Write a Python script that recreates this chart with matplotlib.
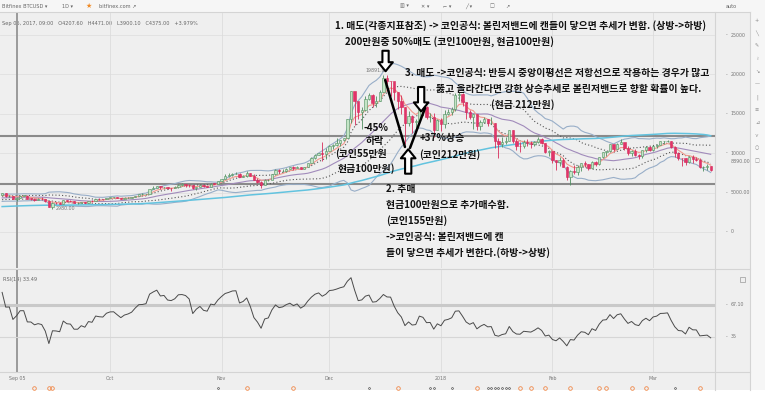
import matplotlib
matplotlib.use("Agg")
import matplotlib.pyplot as plt
from matplotlib.patches import Rectangle
import numpy as np
import pandas as pd

W, H = 768, 404
plt.rcParams['font.family'] = ['Noto Sans CJK KR', 'DejaVu Sans']

# daily BTCUSD (Bitfinex), Sep 01 2017 .. Mar 17 2018
closes = [4892, 4579, 4582, 4236, 4376, 4597, 4599, 4229, 4226, 4122, 4161, 4130, 3882, 3154, 3637,
          3625, 3582, 4065, 3924, 3905, 3631, 3631, 3776, 3703, 3942, 3910, 4202, 4174, 4163, 4338,
          4403, 4409, 4318, 4229, 4329, 4371, 4439, 4611, 4773, 4782, 4820, 5432, 5637, 5831, 5679,
          5725, 5605, 5590, 5708, 6011, 6031, 6008, 5930, 5526, 5750, 5904, 5780, 5753, 6153, 6130, 6468,
          6767, 7078, 7207, 7379, 7407, 7022, 7144, 7459, 7143, 6618, 6357, 5950, 6559, 6635, 7315,
          7871, 7708, 7790, 8036, 8200, 8071, 8253, 8038, 8254, 8790, 9330, 9818, 10058, 9888, 10233,
          10975, 11074, 11323, 11657, 11916, 14291, 17899, 16569, 15178, 15455, 16937, 17415, 16408, 16564, 17706,
          19497, 19140, 19114, 17776, 16624, 15802, 13831, 14699, 13926, 14026, 16099, 15838, 14606, 14656, 12952, 14156,
          13657, 14982, 15201, 15599, 17429, 17527, 16477, 15170, 14595, 14973, 13405, 13980, 14360, 13772, 13819,
          11490, 11188, 11474, 11607, 12899, 11600, 10931, 10868, 11359, 11259, 11171, 11440, 11787, 11296, 10106, 10221,
          9171, 8830, 9174, 8277, 6955, 7754, 7621, 8265, 8736, 8621, 8129, 8926, 8598, 9494,
          10166, 10233, 11112, 10551, 11225, 11403, 10690, 10005, 10301, 9813, 9664, 10366, 10725, 10397,
          10951, 11086, 11489, 11512, 11573, 10779, 9965, 9395, 9337, 8866, 9578, 9205, 9194, 8269, 8300, 8338, 7916]
highs = [4939, 4940, 4714, 4582, 4471, 4655, 4679, 4653, 4323, 4329, 4330, 4395, 4145, 3920, 3790,
         3809, 3760, 4120, 4120, 4045, 3937, 3768, 3813, 3791, 3975, 4008, 4210, 4255, 4217, 4362,
         4470, 4470, 4433, 4352, 4362, 4430, 4460, 4620, 4788, 4916, 4876, 5447, 5850, 5840, 5866,
         5770, 5739, 5630, 5774, 6070, 6195, 6076, 6070, 5935, 5760, 5978, 6000, 5880, 6260, 6195, 6470,
         6770, 7367, 7461, 7493, 7601, 7445, 7207, 7776, 7446, 7329, 6838, 6490, 6735, 6760, 7330,
         7964, 7989, 7937, 8102, 8267, 8374, 8337, 8300, 8305, 8800, 9526, 9835, 10057, 11400, 10700,
         11050, 11180, 11900, 11684, 11958, 14376, 17899, 17294, 16400, 15889, 17223, 17603, 17500, 17230, 17988,
         19870, 19891, 19178, 19021, 17790, 17440, 15920, 15350, 14833, 14400, 16370, 16510, 15964, 15130, 15060, 14400,
         14438, 15450, 15600, 15800, 17600, 17800, 17600, 16500, 15500, 14995, 14970, 14200, 14600, 14400, 14550,
         13800, 11900, 12000, 12100, 13000, 12900, 11800, 11400, 11700, 11800, 11560, 11600, 12000, 11870, 11300, 10400,
         10200, 9100, 9490, 9380, 8400, 7850, 8500, 8500, 8750, 9070, 8600, 8990, 8950, 9500,
         10200, 10300, 11120, 11100, 11250, 11800, 11300, 10900, 10400, 10500, 9900, 10400, 10900, 10880,
         11000, 11200, 11550, 11540, 11700, 11600, 10900, 10100, 9420, 9400, 9650, 9800, 9500, 9400, 8400, 8600, 8400]
lows = [4735, 4450, 4453, 4130, 3900, 4373, 4535, 4151, 4110, 3909, 4075, 4076, 3765, 3152, 2980,
        3565, 3551, 3566, 3869, 3860, 3625, 3508, 3620, 3665, 3706, 3869, 3906, 4117, 4017, 4146,
        4310, 4368, 4258, 4208, 4226, 4321, 4358, 4430, 4570, 4737, 4754, 4822, 5426, 5615, 5450,
        5568, 5518, 5215, 5585, 5632, 5895, 5730, 5681, 5480, 5376, 5730, 5729, 5722, 5680, 6054, 6104,
        6377, 6700, 6990, 7101, 7300, 7003, 6987, 7040, 7089, 6590, 6250, 5600, 5944, 6424, 6667,
        7195, 7498, 7559, 7637, 7962, 7827, 8070, 8030, 8015, 8286, 8800, 9319, 9767, 8964, 9300,
        10300, 10500, 10910, 10878, 11590, 11890, 13884, 13600, 14360, 13120, 15356, 16696, 15900, 15920, 16562,
        17725, 18800, 17200, 16780, 15600, 14915, 11160, 13400, 12610, 13100, 13952, 15356, 14290, 13960, 12100, 12900,
        12800, 13200, 14800, 14800, 15400, 16600, 16000, 14300, 14300, 13100, 12900, 12900, 13900, 13400, 13700,
        10700, 9400, 10800, 11200, 11500, 11300, 10400, 10100, 10600, 10900, 10600, 10900, 11300, 11200, 10000, 9700,
        8800, 7900, 8400, 8200, 6600, 6000, 7300, 7200, 7800, 8200, 7900, 8100, 8400, 8550,
        9400, 9700, 10100, 10300, 10500, 11200, 10400, 9800, 9600, 9700, 9300, 9400, 10100, 10300,
        10300, 10700, 11000, 11200, 11400, 10600, 9500, 9100, 8400, 8500, 8700, 8800, 9000, 8100, 7700, 7900, 7800]
# closes Jul 01 .. Aug 31 2017, only used to warm up the indicators
warmup = [2434, 2507, 2565, 2601, 2601, 2608, 2518, 2571, 2518, 2373, 2337, 2398, 2357, 2233, 1998,
          1929, 2228, 2318, 2273, 2817, 2667, 2810, 2730, 2754, 2576, 2529, 2671, 2809, 2726, 2757, 2875,
          2718, 2710, 2804, 2895, 3252, 3213, 3378, 3419, 3342, 3381, 3650, 3884, 4073, 4325, 4182, 4360,
          4276, 4160, 4193, 4087, 4001, 4100, 4151, 4334, 4371, 4352, 4382, 4382, 4579, 4565, 4703]

month_days = [30, 61, 91, 122, 153, 181]
month_labels = ['Oct', 'Nov', 'Dec', '2018', 'Feb', 'Mar']
cursor_day = 4
price_ticks = [0, 5000, 10000, 15000, 20000, 25000]
price_tick_labels = ['0', '5000.00', '10000', '15000', '20000', '25000']
last_price = 8890.00
level_lines = [12180, 6090]
rsi_levels = [67.10, 35]
events_orange = [9, 13, 14, 68, 81, 110, 132, 144, 147, 151, 158, 166, 168, 175, 179, 194]
events_black = [60, 102, 119, 120, 125, 135, 136, 137, 138, 139, 140, 141, 187]

# ---- indicators
s = pd.Series(warmup + closes, dtype=float)
k = len(warmup)
ma20 = s.rolling(20, min_periods=1).mean()
sd20 = s.rolling(20, min_periods=2).std(ddof=0).bfill()
ema5 = s.ewm(span=6, adjust=False).mean()
ma100 = s.rolling(100, min_periods=1).mean()
d = s.diff()
gain = d.clip(lower=0).ewm(alpha=1 / 14, adjust=False).mean()
loss = (-d.clip(upper=0)).ewm(alpha=1 / 14, adjust=False).mean()
rsi = 100 - 100 / (1 + gain / loss)
sl = slice(k, None)

n = len(closes)
days = np.arange(n)
c = np.array(closes, float)
o = np.array([warmup[-1]] + closes[:-1], float)
hi = np.array(highs, float)
lo = np.array(lows, float)

fig = plt.figure(figsize=(W / 100, H / 100), dpi=100)
fig.patch.set_facecolor('white')

def fr(x0, y0, x1, y1):
    return [x0 / W, 1 - y1 / H, (x1 - x0) / W, (y1 - y0) / H]

# background / chrome in pixel coordinates
bg = fig.add_axes([0, 0, 1, 1], zorder=0)
bg.set_xlim(0, W); bg.set_ylim(H, 0); bg.axis('off')
bg.add_patch(Rectangle((0, 0), 765, 390, color='#efefef', lw=0))
bg.add_patch(Rectangle((0, 0), 765, 12, color='#f6f6f6', lw=0))
bg.add_patch(Rectangle((750, 12), 15, 378, color='#f6f6f6', lw=0))
for y in [12, 269, 372]:
    bg.plot([0, 750], [y, y], color='#d4d4d4', lw=0.8)
bg.plot([715, 715], [12, 390], color='#d4d4d4', lw=0.8)
bg.plot([750, 750], [12, 390], color='#d4d4d4', lw=0.8)
ui = dict(fontsize=3.6, color='#666', va='center', family='DejaVu Sans')
bg.text(2, 6, 'Bitfinex BTCUSD ▾', **ui)
bg.text(62, 6, '1D ▾', **ui)
bg.text(86, 6, '★', fontsize=5, color='#f08a24', va='center', family='DejaVu Sans')
bg.text(99, 6, 'bitfinex.com ↗', **ui)
for x, g in zip([400, 421, 443, 465, 490, 505], ['▥ ▾', '✕ ▾', '⌐ ▾', '╱ ▾', '□', '↗']):
    bg.text(x, 6, g, **ui)
bg.text(726, 6, 'auto', **ui)
for i, g in enumerate(['+', '╲', '✎', '≀', '↘', '—', '|', '≡', '⊿', '⋎', '○', '□']):
    bg.text(757, 20 + i * 12.8, g, fontsize=3.6, color='#888', ha='center', va='center', family='DejaVu Sans')
bg.text(2, 23, 'Sep 05, 2017, 09:00   O4207.60   H4471.00   L3900.10   C4375.00   +3.979%', **ui)
bg.text(3, 279, 'RSI(14) 33.49', **ui)
bg.add_patch(Rectangle((740, 277), 5, 5, fill=False, ec='#999', lw=0.5))

# ---- price panel
ax = fig.add_axes(fr(0, 13, 715, 268), zorder=2)
ax.set_facecolor('none')
ax.set_xlim(-0.59, 198.2)
ax.set_ylim(-4569, 27792)
for sp in ax.spines.values():
    sp.set_visible(False)
ax.set_xticks([]); ax.set_yticks([])
for p in price_ticks:
    ax.axhline(p, color='#e0e0e0', lw=0.6, zorder=0)
for m in month_days:
    ax.axvline(m, color='#dcdcdc', lw=0.6, zorder=0)
ax.axvline(cursor_day, color='#9a9a9a', lw=1.4, zorder=1)
for lv in level_lines:
    ax.axhline(lv, color='#8a8a8a', lw=1.5, zorder=1)

x = days
ax.plot(x, (ma20 + 2 * sd20)[sl], color='#98aec8', lw=0.8, zorder=2)
ax.plot(x, (ma20 - 2 * sd20)[sl], color='#98aec8', lw=0.8, zorder=2)
ax.plot(x, (ma20 + sd20)[sl], color='#555555', lw=0.8, ls=(0, (1, 2)), zorder=2)
ax.plot(x, (ma20 - sd20)[sl], color='#555555', lw=0.8, ls=(0, (1, 2)), zorder=2)
ax.plot(x, ma20[sl], color='#a18bbb', lw=0.8, zorder=2)
ax.plot(x, ma100[sl], color='#62c3df', lw=1.1, zorder=2)
ax.plot(x, ema5[sl], color='#f29a8e', lw=0.8, zorder=2)

up = c >= o
ax.vlines(x[up], lo[up], hi[up], color='#4f8f5f', lw=0.6, zorder=3)
ax.vlines(x[~up], lo[~up], hi[~up], color='#d62c5a', lw=0.6, zorder=3)
body_lo = np.minimum(o, c)
body_h = np.maximum(np.abs(c - o), 40)
ax.bar(x[up], body_h[up], bottom=body_lo[up], width=0.64, color='#c4e5c6',
       edgecolor='#4f8f5f', lw=0.4, zorder=4)
ax.bar(x[~up], body_h[~up], bottom=body_lo[~up], width=0.64, color='#e2336a',
       edgecolor='#d62c5a', lw=0.4, zorder=4)

ih = int(np.argmax(hi)); il = int(np.argmin(lo))
lab = dict(fontsize=3.4, color='#777', family='DejaVu Sans', zorder=5)
ax.text(ih + 0.4, hi[ih] + 250, f'{hi[ih]:.2f}', ha='right', va='bottom', **lab)
ax.text(il + 1.0, lo[il], f'{lo[il]:.2f}', ha='left', va='center', **lab)

ytr = ax.get_yaxis_transform()
for p, t in zip(price_ticks, price_tick_labels):
    ax.text(1.0145, p, '-', transform=ytr, ha='left', va='center', clip_on=False, **lab)
    ax.text(1.022, p, t, transform=ytr, ha='left', va='center', clip_on=False, **lab)
ax.text(1.022, last_price, f'{last_price:.2f}', transform=ytr, ha='left', va='center',
        clip_on=False, **lab)

# annotations (hand drawn lines and arrows on the chart)
ax.plot([106.5, 112.0], [19290, 10790], color='black', lw=1.8, zorder=6, solid_capstyle='round')
ax.plot([113.4, 117.6], [10660, 15740], color='black', lw=1.8, zorder=6, solid_capstyle='round')
arr = dict(arrowstyle='simple,head_width=1.05,head_length=0.65,tail_width=0.45',
           fc='white', ec='black', lw=1.5, shrinkA=0, shrinkB=0, mutation_scale=10)
for xd, ya, yb in [(106.6, 23000, 20400), (116.5, 18400, 15300), (112.9, 7400, 10500)]:
    ax.annotate('', xy=(xd, yb), xytext=(xd, ya), arrowprops=arr, zorder=7)

# ---- RSI panel
ar = fig.add_axes(fr(0, 270, 715, 372), zorder=2)
ar.set_facecolor('none')
ar.set_xlim(-0.59, 198.2)
ar.set_ylim(0, 102)
for sp in ar.spines.values():
    sp.set_visible(False)
ar.set_xticks([]); ar.set_yticks([])
for m in month_days:
    ar.axvline(m, color='#dcdcdc', lw=0.6, zorder=0)
ar.axvline(cursor_day, color='#9a9a9a', lw=1.4, zorder=1)
ar.axhline(rsi_levels[0], color='#c9c9c9', lw=2.2, zorder=1)
ar.axhline(rsi_levels[1], color='#d6d6d6', lw=0.8, zorder=1)
ar.plot(x, rsi[sl], color='#4a4a4a', lw=0.7, zorder=3)
rtr = ar.get_yaxis_transform()
for v, t in zip(rsi_levels, ['67.10', '35']):
    ar.text(1.0145, v, '-', transform=rtr, ha='left', va='center', clip_on=False, **lab)
    ar.text(1.022, v, t, transform=rtr, ha='left', va='center', clip_on=False, **lab)

xtr = ar.get_xaxis_transform()
ar.text(cursor_day + 0.2, -0.06, 'Sep 05', transform=xtr, ha='center', va='center', clip_on=False, **lab)
for m, t in zip(month_days, month_labels):
    ar.text(m, -0.06, t, transform=xtr, ha='center', va='center', clip_on=False, **lab)
ar.plot(events_orange, [-0.157] * len(events_orange), 'o', ms=2.6, mfc='none', mec='#f0894a',
        mew=0.6, transform=xtr, clip_on=False)
ar.plot(events_black, [-0.157] * len(events_black), 'o', ms=1.3, mfc='none', mec='#555',
        mew=0.5, transform=xtr, clip_on=False)

# ---- text notes on top
top = fig.add_axes([0, 0, 1, 1], zorder=10)
top.set_xlim(0, W); top.set_ylim(H, 0); top.axis('off')
notes = [
    (335, 26, '1. 매도(각종지표참조) -> 코인공식: 볼린저밴드에 캔들이 닿으면 추세가 변함. (상방->하방)'),
    (345, 42, '200만원중 50%매도 (코인100만원, 현금100만원)'),
    (405, 73, '3. 매도 ->코인공식: 반등시 중앙이평선은 저항선으로 작용하는 경우가 많고'),
    (436, 89, '뚫고 올라간다면 강한 상승추세로 볼린저밴드로 향할 확률이 높다.'),
    (491, 105, '(현금 212만원)'),
    (364, 128, '-45%'),
    (366, 141, '하락'),
    (335, 154, '(코인55만원'),
    (338, 169, '현금100만원)'),
    (420, 138, '+37%상승'),
    (419, 155, '(코인212만원)'),
    (386, 189, '2. 추매'),
    (386, 205, '현금100만원으로 추가매수함.'),
    (386, 221, '(코인155만원)'),
    (386, 237, '->코인공식: 볼린저밴드에 캔'),
    (386, 253, '들이 닿으면 추세가 변한다.(하방->상방)'),
]
for tx, ty, t in notes:
    top.text(tx, ty, t, fontsize=7.1, fontweight='bold', color='#111', ha='left', va='center')

fig.savefig('out.png', dpi=100, facecolor=fig.get_facecolor())
